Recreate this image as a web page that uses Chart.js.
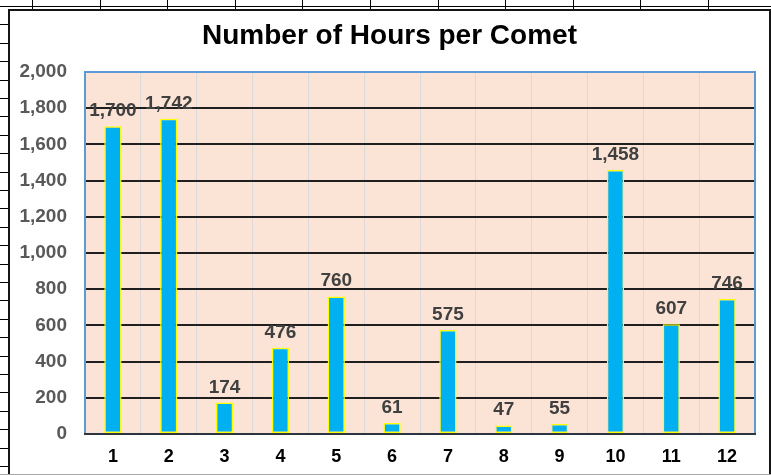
<!DOCTYPE html>
<html>
<head>
<meta charset="utf-8">
<script src="https://cdn.jsdelivr.net/npm/chart.js@4/dist/chart.umd.min.js"></script>
<style>
html,body{margin:0;padding:0;background:#fff;}
#page{position:relative;width:771px;height:475px;overflow:hidden;background:#fff;}
.hl{position:absolute;left:0;width:771px;height:1px;background:#000;}
.vl{position:absolute;top:0;width:1px;height:475px;background:#000;}
#frame{position:absolute;left:8px;top:9px;width:759px;height:480px;border:2px solid #151515;background:#fff;box-shadow:1px 1px 0 #9a9a9a;}
#bottomline{position:absolute;left:0;top:474px;width:771px;height:1px;background:#a6a6a6;}
#c{position:absolute;left:0;top:0;}
</style>
</head>
<body>
<div id="page">
  <div id="sheet"></div>
  <div id="frame"></div>
  <div id="bottomline"></div>
  <canvas id="c" width="771" height="475"></canvas>
</div>
<script>
// ---- data ----
const categories = ['1','2','3','4','5','6','7','8','9','10','11','12'];
const hoursPerComet = [1700, 1742, 174, 476, 760, 61, 575, 47, 55, 1458, 607, 746];
const yMin = 0;
const yMax = 2000;
const yStep = 200;
const chartTitle = 'Number of Hours per Comet';

// ---- spreadsheet background lines ----
const sheet = document.getElementById('sheet');
for (let y = 6; y < 475; y += 18.4) {
  const d = document.createElement('div');
  d.className = 'hl'; d.style.top = Math.round(y) + 'px';
  sheet.appendChild(d);
}
for (let x = 32; x < 771; x += 67.6) {
  const d = document.createElement('div');
  d.className = 'vl'; d.style.left = Math.round(x) + 'px';
  sheet.appendChild(d);
}

const FONT = "'Liberation Sans', Arial, Helvetica, sans-serif";
const fmt = v => Number(v).toLocaleString('en-US');

const plotDecor = {
  id: 'plotDecor',
  beforeDraw(chart) {
    const {ctx, chartArea: a} = chart;
    ctx.save();
    ctx.fillStyle = '#FBE4D6';
    ctx.fillRect(a.left, a.top, a.right - a.left, a.bottom - a.top);
    ctx.restore();
  },
  beforeDatasetsDraw(chart) {
    const {ctx, chartArea: a} = chart;
    ctx.save();
    ctx.strokeStyle = '#5B9BD5';
    ctx.lineWidth = 2;
    ctx.beginPath();
    ctx.moveTo(a.left, a.bottom);
    ctx.lineTo(a.left, a.top);
    ctx.lineTo(a.right, a.top);
    ctx.lineTo(a.right, a.bottom);
    ctx.stroke();
    ctx.strokeStyle = '#2e3440';
    ctx.beginPath();
    ctx.moveTo(a.left - 1, a.bottom);
    ctx.lineTo(a.right + 1, a.bottom);
    ctx.stroke();
    ctx.restore();
  },
  afterDatasetsDraw(chart) {
    const {ctx} = chart;
    const meta = chart.getDatasetMeta(0);
    const data = chart.data.datasets[0].data;
    ctx.save();
    ctx.fillStyle = '#404040';
    ctx.font = "bold 19px " + FONT;
    ctx.textAlign = 'center';
    ctx.textBaseline = 'alphabetic';
    meta.data.forEach((bar, i) => {
      ctx.fillText(fmt(data[i]), bar.x, bar.y - 10);
    });
    ctx.restore();
  },
  afterDraw(chart) {
    const {ctx} = chart;
    ctx.save();
    ctx.fillStyle = '#000000';
    ctx.font = "bold 28px " + FONT;
    ctx.textAlign = 'center';
    ctx.textBaseline = 'middle';
    ctx.fillText(chartTitle, 389.5, 36);
    ctx.restore();
  }
};

new Chart(document.getElementById('c'), {
  type: 'bar',
  data: {
    labels: categories,
    datasets: [{
      data: hoursPerComet,
      backgroundColor: '#00B0F0',
      borderColor: '#FFFF00',
      borderWidth: 1.5,
      borderSkipped: false,
      categoryPercentage: 1,
      barPercentage: 0.31
    }]
  },
  options: {
    responsive: false,
    animation: false,
    layout: { padding: { left: 0, right: 16, top: 72, bottom: 0 } },
    plugins: {
      legend: { display: false },
      tooltip: { enabled: false },
      title: { display: false }
    },
    scales: {
      x: {
        grid: { display: true, color: '#D9D9D9', lineWidth: 1, drawTicks: false, offset: true },
        border: { display: false },
        ticks: { color: '#000000', font: { family: FONT, size: 18, weight: 'bold' }, padding: 12 },
        afterFit(s) { s.height = 41; }
      },
      y: {
        min: yMin,
        max: yMax,
        grid: {
          drawTicks: false,
          lineWidth: 2,
          color: c => (c.tick && c.tick.value > yMin && c.tick.value < yMax) ? '#1f1f1f' : 'rgba(0,0,0,0)'
        },
        border: { display: false },
        ticks: {
          stepSize: yStep,
          color: '#595959',
          font: { family: FONT, size: 19, weight: 'bold' },
          padding: 18,
          callback: v => fmt(v)
        },
        afterFit(s) { s.width = 85; }
      }
    }
  },
  plugins: [plotDecor]
});
</script>
</body>
</html>
